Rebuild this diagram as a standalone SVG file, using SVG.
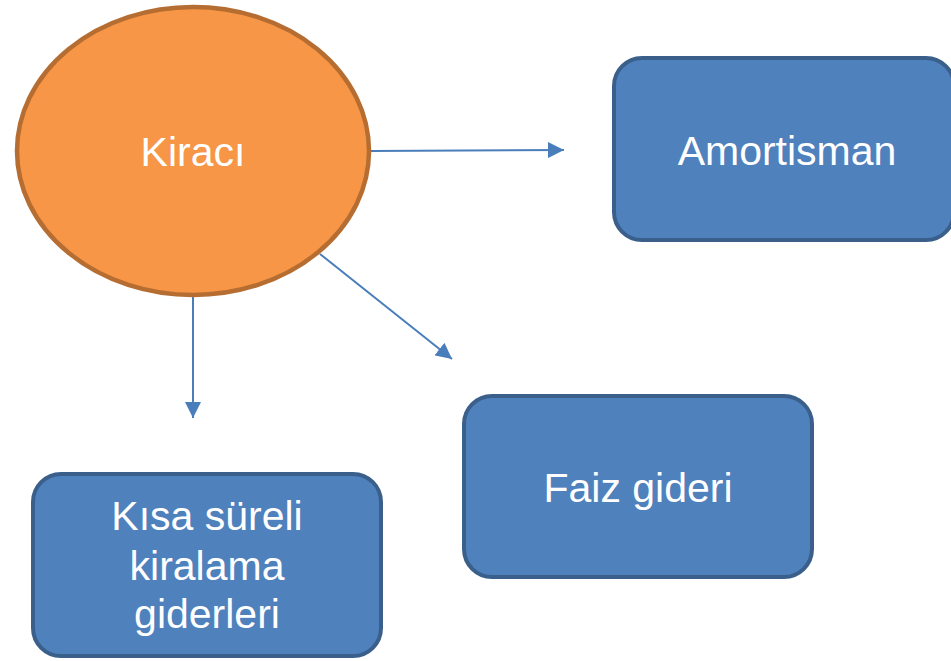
<svg xmlns="http://www.w3.org/2000/svg" width="951" height="661" viewBox="0 0 951 661">
<style>
.box{fill:#4F81BD;stroke:#3A5F8B;stroke-width:4}
.oval{fill:#F79646;stroke:#B66D31;stroke-width:4.5}
.lbl{font-family:"Liberation Sans",Arial,sans-serif;font-size:41px;fill:#FFFFFF;text-anchor:middle}
.conn{stroke:#4A7EBB;stroke-width:2;fill:none;marker-end:url(#ah)}
</style>
<defs>
<marker id="ah" markerWidth="8" markerHeight="8" refX="8" refY="4" orient="auto" markerUnits="strokeWidth">
<path d="M0,0 L8,4 L0,8 Z" fill="#4A7EBB"/>
</marker>
</defs>
<rect width="951" height="661" fill="#FFFFFF"/>
<g id="connectors">
<line class="conn" x1="371" y1="151" x2="564" y2="150"/>
<line class="conn" x1="320" y1="254" x2="452" y2="359"/>
<line class="conn" x1="193" y1="295" x2="193" y2="418"/>
</g>
<g id="kiraci">
<ellipse class="oval" cx="193" cy="151" rx="176" ry="144"/>
<text class="lbl" x="193" y="166">Kiracı</text>
</g>
<g id="amortisman">
<rect class="box" x="614" y="58" width="340" height="182" rx="28"/>
<text class="lbl" x="787" y="165">Amortisman</text>
</g>
<g id="faiz">
<rect class="box" x="464" y="396" width="348" height="181" rx="28"/>
<text class="lbl" x="638" y="502">Faiz gideri</text>
</g>
<g id="kisa">
<rect class="box" x="33" y="474" width="348" height="182" rx="28"/>
<text class="lbl" x="207" y="530">Kısa süreli</text>
<text class="lbl" x="207" y="580">kiralama</text>
<text class="lbl" x="207" y="628">giderleri</text>
</g>
</svg>
